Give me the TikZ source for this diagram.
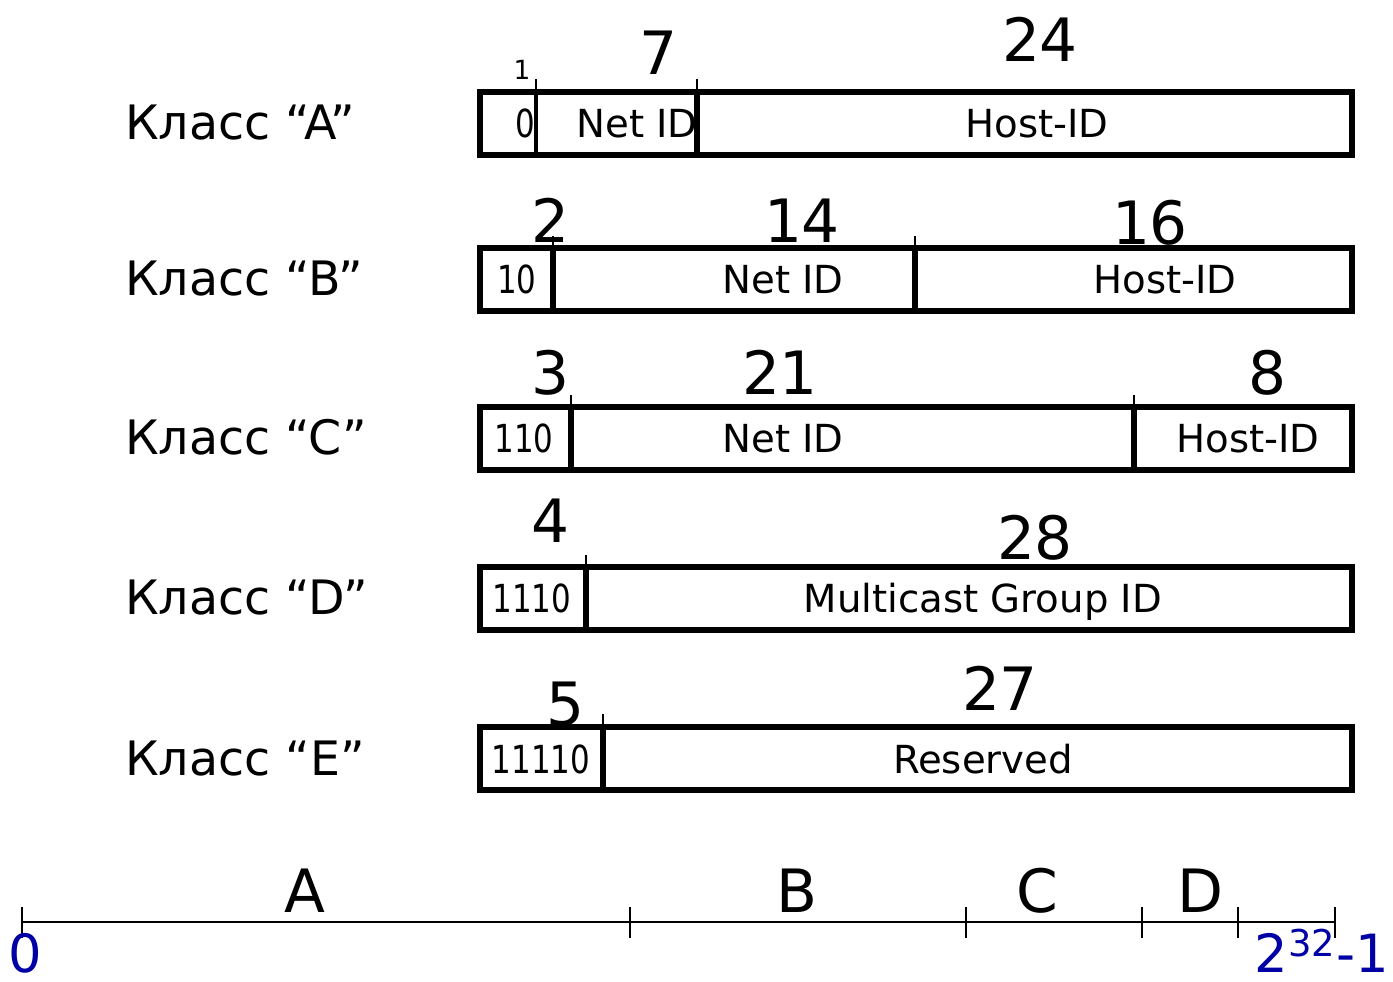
\documentclass[tikz,border=0pt]{standalone}
\usepackage{fontspec}
\setmainfont{DejaVu Sans}
\newfontfamily\narrowdigits[FakeStretch=0.8]{DejaVu Sans}
\usepackage{tikz}
\definecolor{axisblue}{RGB}{0,0,165}

\begin{document}
\begin{tikzpicture}[x=0.02cm, y=-0.02cm,
    field/.style={line width=3.3pt},
    thinfield/.style={line width=2pt},
    bittick/.style={line width=1pt},
    bits/.style={anchor=base, font=\fontsize{34}{36}\selectfont},
    smallbits/.style={anchor=base, font=\fontsize{15}{17}\selectfont},
    fieldtext/.style={anchor=base, font=\fontsize{22}{24}\selectfont},
    prefixtext/.style={anchor=base, font=\narrowdigits\fontsize{22}{24}\selectfont},
    classname/.style={anchor=base west, font=\fontsize{27}{30}\selectfont},
    rangetext/.style={anchor=base, font=\fontsize{34}{36}\selectfont},
    endtext/.style={anchor=base, inner sep=0pt, text=axisblue, font=\fontsize{30}{32}\selectfont}]

  \useasboundingbox (0, 0) rectangle (1393, 982);

  % class A
  \begin{scope}[shift={(0, 92)}]
    \node[classname] (clsA) at (119, 48) {Класс “A”};
    \draw[field] (480, 0) rectangle (1352, 63);
    \draw[thinfield] (536, 0) -- (536, 63);
    \draw[field] (697, 0) -- (697, 63);
    \draw[bittick] (536, -13) -- (536, 0);
    \draw[bittick] (697, -13) -- (697, 0);
    \node[smallbits] (bitsA1) at (522, -12) {1};
    \node[bits] (bitsA2) at (658, -17) {7};
    \node[bits] (bitsA3) at (1040, -30) {24};
    \node[prefixtext] (fldA1) at (525, 46) {0};
    \node[fieldtext] (fldA2) at (637, 46) {Net ID};
    \node[fieldtext] (fldA3) at (1037, 46) {Host-ID};
  \end{scope}

  % class B
  \begin{scope}[shift={(0, 248)}]
    \node[classname] (clsB) at (119, 48) {Класс “B”};
    \draw[field] (480, 0) rectangle (1352, 63);
    \draw[field] (553, 0) -- (553, 63);
    \draw[field] (915, 0) -- (915, 63);
    \draw[bittick] (553, -12) -- (553, 0);
    \draw[bittick] (915, -12) -- (915, 0);
    \node[bits] (bitsB1) at (550, -5) {2};
    \node[bits] (bitsB2) at (802, -5) {14};
    \node[bits] (bitsB3) at (1150, -3) {16};
    \node[prefixtext] (fldB1) at (517, 46) {10};
    \node[fieldtext] (fldB2) at (783, 46) {Net ID};
    \node[fieldtext] (fldB3) at (1165, 46) {Host-ID};
  \end{scope}

  % class C
  \begin{scope}[shift={(0, 407)}]
    \node[classname] (clsC) at (119, 48) {Класс “C”};
    \draw[field] (480, 0) rectangle (1352, 63);
    \draw[field] (571, 0) -- (571, 63);
    \draw[field] (1134, 0) -- (1134, 63);
    \draw[bittick] (571, -12) -- (571, 0);
    \draw[bittick] (1134, -12) -- (1134, 0);
    \node[bits] (bitsC1) at (550, -12) {3};
    \node[bits] (bitsC2) at (780, -12) {21};
    \node[bits] (bitsC3) at (1267, -12) {8};
    \node[prefixtext] (fldC1) at (524, 46) {110};
    \node[fieldtext] (fldC2) at (783, 46) {Net ID};
    \node[fieldtext] (fldC3) at (1248, 46) {Host-ID};
  \end{scope}

  % class D
  \begin{scope}[shift={(0, 567)}]
    \node[classname] (clsD) at (119, 48) {Класс “D”};
    \draw[field] (480, 0) rectangle (1352, 63);
    \draw[field] (586, 0) -- (586, 63);
    \draw[bittick] (586, -12) -- (586, 0);
    \node[bits] (bitsD1) at (550, -24) {4};
    \node[bits] (bitsD2) at (1035, -7) {28};
    \node[prefixtext] (fldD1) at (532, 46) {1110};
    \node[fieldtext] (fldD2) at (983, 46) {Multicast Group ID};
  \end{scope}

  % class E
  \begin{scope}[shift={(0, 727)}]
    \node[classname] (clsE) at (119, 48) {Класс “E”};
    \draw[field] (480, 0) rectangle (1352, 63);
    \draw[field] (603, 0) -- (603, 63);
    \draw[bittick] (603, -13) -- (603, 0);
    \node[bits] (bitsE1) at (565, -2) {5};
    \node[bits] (bitsE2) at (1000, -16) {27};
    \node[prefixtext] (fldE1) at (541, 46) {11110};
    \node[fieldtext] (fldE2) at (983, 46) {Reserved};
  \end{scope}

  % address range
  \draw[line width=1.6pt] (22, 922) -- (1335, 922);
  \foreach \x in {22, 630, 966, 1142, 1238, 1335}
    \draw[bittick] (\x, 907) -- (\x, 938);
  \node[rangetext] (rngA) at (305, 912) {A};
  \node[rangetext] (rngB) at (797, 912) {B};
  \node[rangetext] (rngC) at (1037, 912) {C};
  \node[rangetext] (rngD) at (1200, 912) {D};
  \node[endtext] (lowend) at (25, 972) {0};
  \node[endtext, anchor=base east] (highend) at (1389, 972) {2\textsuperscript{32}-1};
\end{tikzpicture}
\end{document}
